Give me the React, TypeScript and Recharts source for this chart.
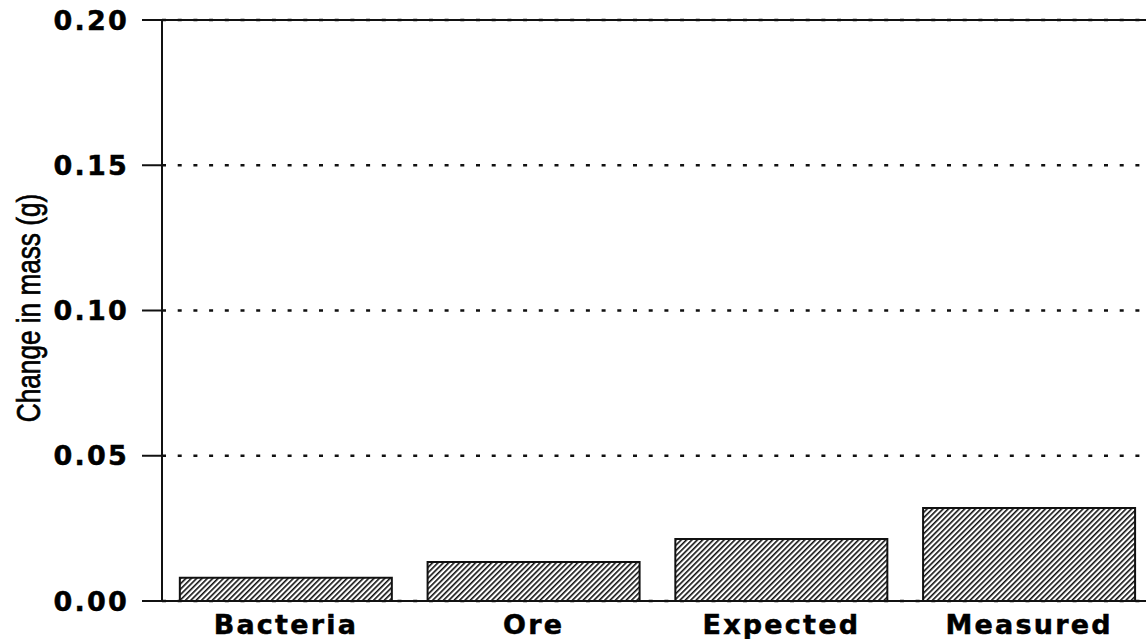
import React from "react";
import {
  Bar,
  BarChart,
  CartesianGrid,
  ReferenceLine,
  XAxis,
  YAxis,
} from "recharts";

const categories = ["Bacteria", "Ore", "Expected", "Measured"];
const massChange = [0.008, 0.0134, 0.0213, 0.032];
const yTicks = [0, 0.05, 0.1, 0.15, 0.2];

const data = categories.map((name, i) => ({ name, value: massChange[i] }));

const tickFont = {
  fontFamily: "'DejaVu Sans', sans-serif",
  fontWeight: "bold" as const,
  fontSize: 27,
  fill: "#000",
  stroke: "#000",
  strokeWidth: 0.5,
  letterSpacing: 2.2,
};

// rotated y axis title, squeezed to look like a condensed face
const YTitle = () => (
  <text
    x={0}
    y={0}
    transform="translate(28, 308) rotate(-90) scale(0.77, 1)"
    textAnchor="middle"
    dominantBaseline="central"
    style={{
      fontFamily: "'Liberation Sans', Arial, sans-serif",
      fontSize: 34,
      fill: "#000",
      stroke: "#000",
      strokeWidth: 0.7,
    }}
  >
    Change in mass (g)
  </text>
);

const App = () => {
  return (
    <div style={{ width: 1146, height: 639, overflow: "hidden", background: "#fff" }}>
      <style>{`body{margin:0}`}</style>
      <BarChart
        width={1160}
        height={639}
        data={data}
        margin={{ top: 20, right: 7, left: 0, bottom: 0 }}
        barCategoryGap="7.2%"
      >
        <defs>
          <pattern
            id="hatch"
            width="3.8"
            height="3.8"
            patternUnits="userSpaceOnUse"
            patternTransform="rotate(45)"
          >
            <rect width="3.8" height="3.8" fill="#fff" />
            <line x1="0" y1="0" x2="0" y2="3.8" stroke="#111" strokeWidth="3.2" />
          </pattern>
        </defs>
        <CartesianGrid
          vertical={false}
          stroke="#111"
          strokeWidth={2.5}
          strokeDasharray="4 11.7"
        />
        <ReferenceLine y={0.2} stroke="#111" strokeWidth={2} />
        <XAxis
          dataKey="name"
          height={38}
          tickSize={0}
          tickMargin={14}
          tickLine={false}
          axisLine={{ stroke: "#111", strokeWidth: 2 }}
          tick={tickFont}
          interval={0}
        />
        <YAxis
          width={162}
          domain={[0, 0.2]}
          ticks={yTicks}
          tickFormatter={(v: number) => v.toFixed(2)}
          tickSize={20}
          tickMargin={13}
          tickLine={{ stroke: "#111", strokeWidth: 2 }}
          axisLine={{ stroke: "#111", strokeWidth: 2 }}
          tick={tickFont}
          label={<YTitle />}
        />
        <Bar
          dataKey="value"
          fill="url(#hatch)"
          stroke="#111"
          strokeWidth={2}
          isAnimationActive={false}
        />
      </BarChart>
    </div>
  );
};

export default App;
